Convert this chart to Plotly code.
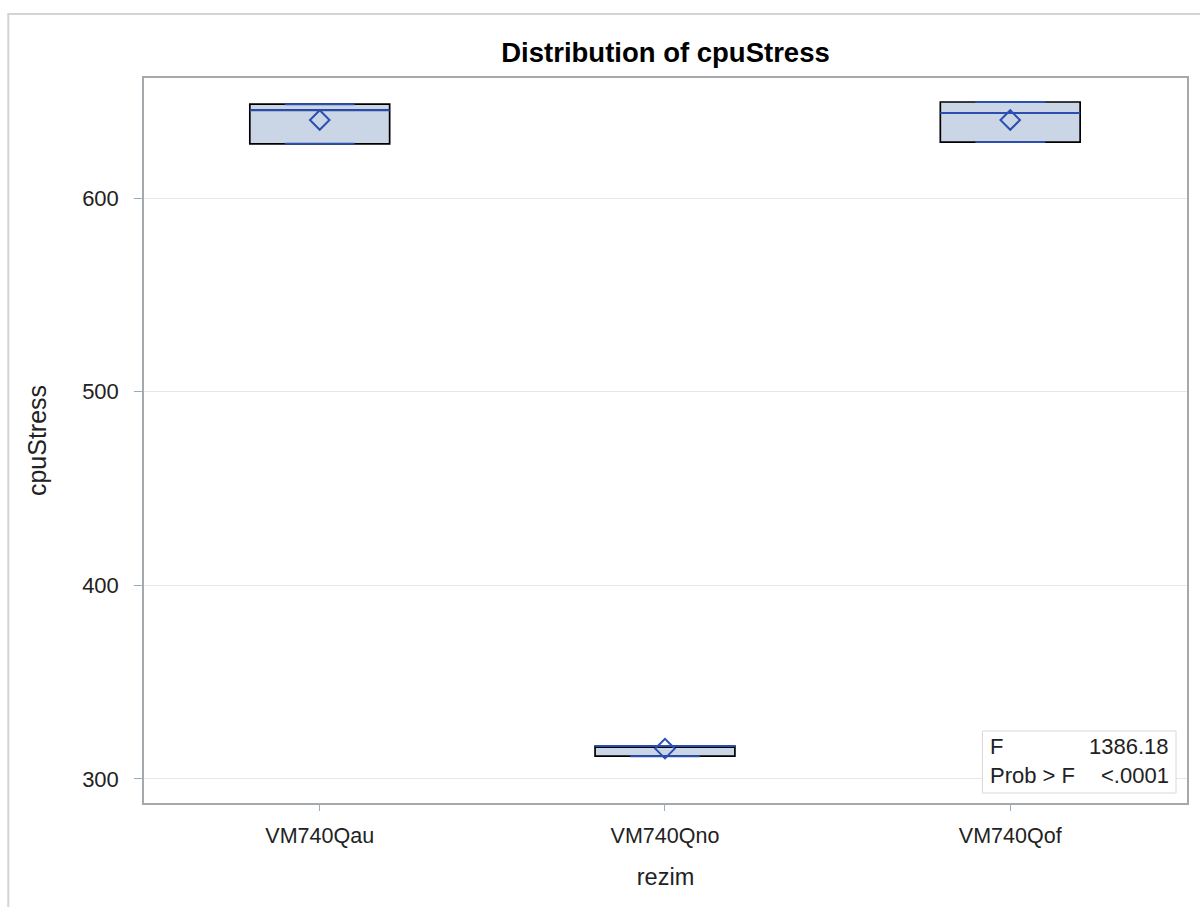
import plotly.graph_objects as go

# Summary statistics of cpuStress per regime
categories = ["VM740Qau", "VM740Qno", "VM740Qof"]
q1 = [628.0, 311.8, 628.9]
median = [645.4, 317.0, 643.9]
q3 = [648.5, 317.0, 649.6]
lower_fence = [628.0, 311.8, 628.9]
upper_fence = [648.5, 317.0, 649.6]
means = [640.3, 315.7, 640.3]
y_ticks = [300, 400, 500, 600]
f_value = "1386.18"
p_value = "<.0001"

BLUE = "#2A4FB0"
FILL = "#CAD5E5"
BOX_W = 0.405
CAP_W = BOX_W / 2

xpos = list(range(len(categories)))

fig = go.Figure()

# Boxes with black outline
fig.add_trace(go.Box(
    x=xpos, q1=q1, median=median, q3=q3,
    lowerfence=lower_fence, upperfence=upper_fence,
    width=BOX_W, whiskerwidth=0,
    fillcolor=FILL, line=dict(color="black", width=1.7),
    boxpoints=False, showlegend=False, hoverinfo="skip",
))

# Blue median lines and whisker caps
seg_x, seg_y = [], []
for i in xpos:
    seg_x += [i - BOX_W / 2, i + BOX_W / 2, None]
    seg_y += [median[i], median[i], None]
    for v in (lower_fence[i], upper_fence[i]):
        seg_x += [i - CAP_W / 2, i + CAP_W / 2, None]
        seg_y += [v, v, None]
fig.add_trace(go.Scatter(
    x=seg_x, y=seg_y, mode="lines",
    line=dict(color=BLUE, width=2), showlegend=False, hoverinfo="skip",
))

# Mean markers
fig.add_trace(go.Scatter(
    x=xpos, y=means, mode="markers",
    marker=dict(symbol="diamond-open", size=15, color=BLUE, line=dict(width=2)),
    showlegend=False,
))

font = "Liberation Sans, Arial, sans-serif"
TXT = "#222"

def px_x(px):
    return (px - 144) / 1045

def px_y(py):
    return (803 - py) / 725

fig.update_layout(
    width=1200, height=907,
    margin=dict(l=144, r=11, t=78, b=104),
    paper_bgcolor="white", plot_bgcolor="white",
    font=dict(family=font, size=21, color=TXT),
    title=dict(text="<b>Distribution of cpuStress</b>", xref="paper", x=0.5, xanchor="center",
               y=1 - 52 / 907, yanchor="middle", font=dict(size=27.5, color="black")),
    xaxis=dict(
        range=[-0.509, 2.512], tickmode="array", tickvals=xpos, ticktext=categories,
        showgrid=False, zeroline=False, showline=True, linecolor="#A3A9AC", linewidth=1.5,
        mirror=True, ticks="outside", ticklen=6, tickcolor="#A3A9AC",
        ticklabelstandoff=6,
        title=dict(text="rezim", font=dict(size=23.5, color=TXT), standoff=22),
        tickfont=dict(size=21.5, color=TXT),
    ),
    yaxis=dict(
        range=[287.6, 662.0], tickmode="array", tickvals=y_ticks,
        showgrid=True, gridcolor="#E6E6E6", gridwidth=1, zeroline=False,
        showline=True, linecolor="#A3A9AC", linewidth=1.5, mirror=True,
        ticks="outside", ticklen=8, tickcolor="#A3A9AC",
        ticklabelstandoff=11,
        title=dict(text="cpuStress", font=dict(size=25, color=TXT), standoff=28),
        tickfont=dict(size=22, color=TXT),
    ),
    shapes=[
        # outer frame of the graphic
        dict(type="rect", xref="paper", yref="paper",
             x0=px_x(8), x1=px_x(1230), y0=px_y(930), y1=px_y(14),
             line=dict(color="#D4D4D4", width=2), fillcolor="rgba(0,0,0,0)", layer="below"),
        # statistics inset
        dict(type="rect", xref="paper", yref="paper",
             x0=px_x(984), x1=px_x(1178), y0=px_y(793), y1=px_y(731),
             line=dict(color="#D8D8D8", width=1), fillcolor="white"),
    ],
    annotations=[
        dict(text="F", xref="paper", yref="paper", x=px_x(990), y=px_y(746),
             xanchor="left", yanchor="middle", showarrow=False, font=dict(size=22, color=TXT)),
        dict(text=f_value, xref="paper", yref="paper", x=px_x(1173), y=px_y(746),
             xanchor="right", yanchor="middle", showarrow=False, font=dict(size=22, color=TXT)),
        dict(text="Prob > F", xref="paper", yref="paper", x=px_x(990), y=px_y(775),
             xanchor="left", yanchor="middle", showarrow=False, font=dict(size=22, color=TXT)),
        dict(text=p_value, xref="paper", yref="paper", x=px_x(1173), y=px_y(775),
             xanchor="right", yanchor="middle", showarrow=False, font=dict(size=22, color=TXT)),
    ],
)

fig.write_html("out.html")
